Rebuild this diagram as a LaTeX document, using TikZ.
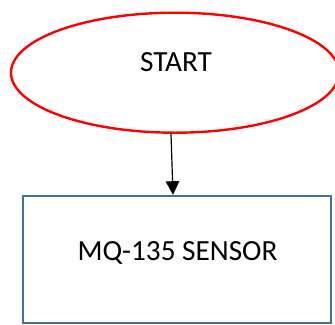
\documentclass[tikz,border=0pt]{standalone}
\usepackage{fontspec}
\setmainfont{Carlito}
\usetikzlibrary{arrows.meta, shapes.geometric}

\definecolor{startred}{RGB}{255,0,0}
\definecolor{boxblue}{RGB}{65,113,156}

\begin{document}
\begin{tikzpicture}[%
        > = {Triangle[width = 3.4mm, length = 3.4mm]},
        line cap = round
    ]

        % Styles for the two flowchart blocks.
        \tikzset{%
            startshape/.style = {%
                ellipse,
                draw = startred,
                line width = 0.06cm,
                minimum width = 8.2cm,
                minimum height = 3.0cm
            },
            sensorbox/.style = {%
                rectangle,
                draw = boxblue,
                line width = 0.06cm,
                minimum width = 7.7cm,
                minimum height = 3.175cm
            },
            flowlabel/.style = {%
                anchor = base,
                inner sep = 0pt,
                font = \fontsize{20.8}{24}\selectfont
            }
        }

        % Page size.
        \useasboundingbox (0.0, 0.0) rectangle (8.375, 8.1);

        % Coordinates
        \coordinate (S) at (4.375, 6.2825);
        \coordinate (M) at (4.425, 1.6125);

        % The two blocks.
        \node[startshape] (start) at (S) {};
        \node[sensorbox] (sensor) at (M) {};

        % Labels for the blocks.
        \node[flowlabel] (starttext) at (4.4, 6.3075) {START};
        \node[flowlabel] (sensortext) at (4.4375, 1.6) {MQ-135 SENSOR};

        % Flow from start to the sensor.
        \draw[line width = 0.03cm, ->]
            ([xshift = -0.1cm]start.south) -- ([xshift = -0.1cm]sensor.north);
    \end{tikzpicture}
\end{document}
